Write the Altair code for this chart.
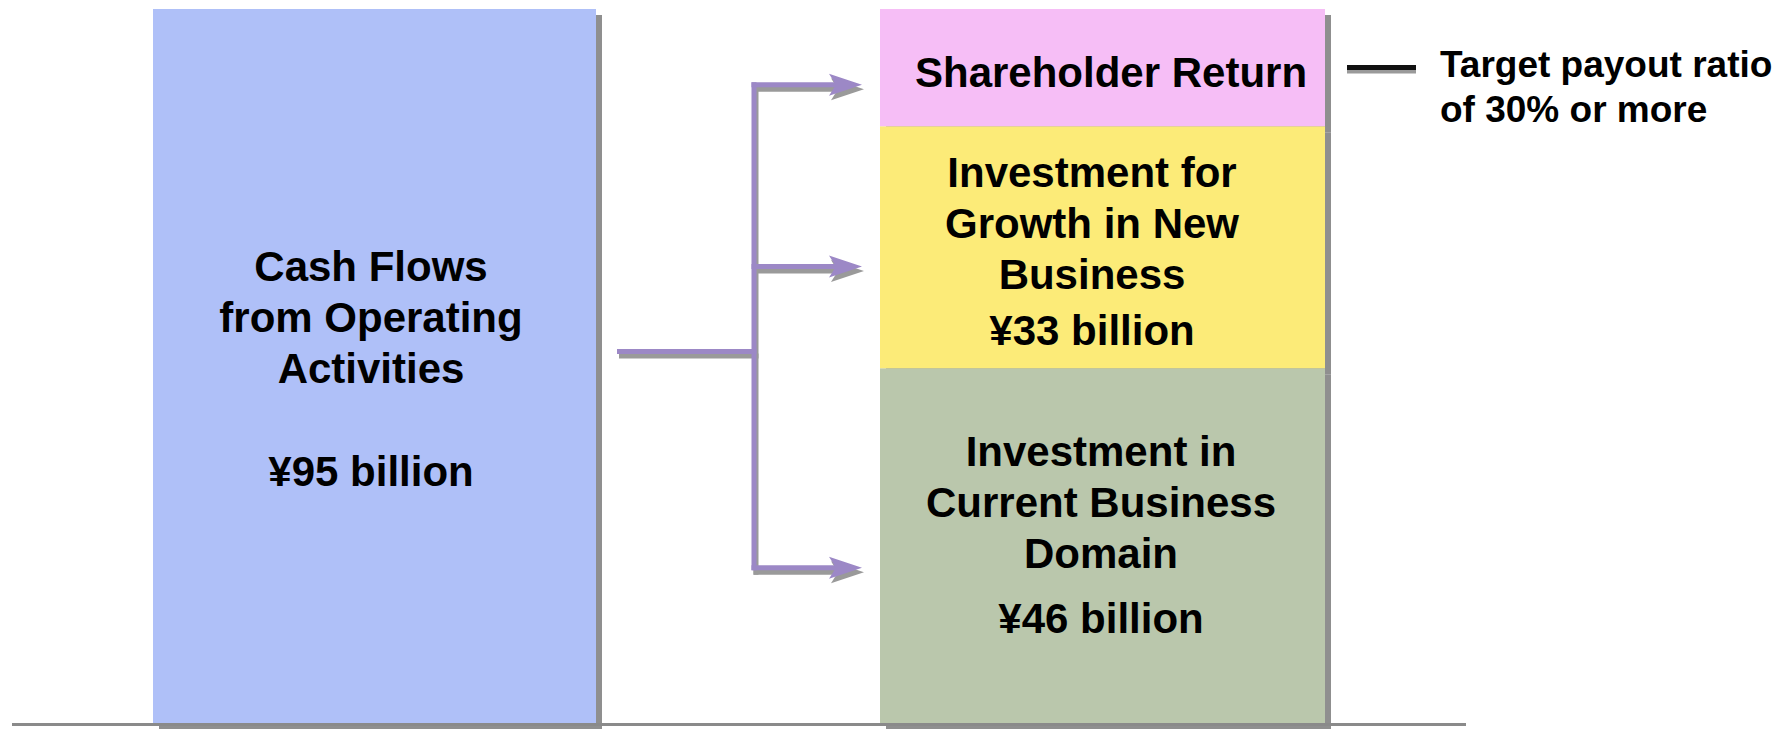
import altair as alt
import pandas as pd

# ---------------- values (¥ billion) ----------------
source_total = 95                          # left bar: cash flows from operating activities
source_color = "#AFC0F8"

use_names = ["Investment in Current Business Domain",
             "Investment for Growth in New Business",
             "Shareholder Return"]         # stacked bottom -> top
use_heights = [47.2, 32.2, 15.6]           # drawn heights of the stacked segments
use_colors = ["#BAC7AC", "#FCEB78", "#F6BEF6"]

source_text = ["Cash Flows", "from Operating", "Activities", "¥95 billion"]
green_text = ["Investment in", "Current Business", "Domain", "¥46 billion"]
yellow_text = ["Investment for", "Growth in New", "Business", "¥33 billion"]
pink_text = ["Shareholder Return"]
note_text = ["Target payout ratio", "of 30% or more"]

# ---------------- layout ----------------
W, H = 1773, 721
K = 714 / 95                      # pixels per ¥ billion


def val(row):
    """page row -> value on the y scale"""
    return (723 - row) / K


xs = alt.Scale(domain=[8, 8 + W], nice=False, zero=False)
ys = alt.Scale(domain=[val(8 + H), val(8)], nice=False, zero=False)

FONT = "Liberation Sans"
PURPLE = "#9C88C6"
SHADOW = "#9a9a9a"

LEFT_X = (153, 596)
RIGHT_X = (880, 1325)
SH_DX, SH_DY = 6, 6               # bar shadow offset (px)

# bars (stacked by cumulative sum)
bars = [dict(x0=LEFT_X[0], x1=LEFT_X[1], y0=0.0, y1=float(source_total), color=source_color)]
base = 0.0
for h, c in zip(use_heights, use_colors):
    bars.append(dict(x0=RIGHT_X[0], x1=RIGHT_X[1], y0=base, y1=base + h, color=c))
    base += h
bars_df = pd.DataFrame(bars)
shadow_df = bars_df.assign(x0=bars_df.x0 + SH_DX, x1=bars_df.x1 + SH_DX,
                           y0=bars_df.y0 - SH_DY / K, y1=bars_df.y1 - SH_DY / K)

# arrow geometry (page px / rows)
CONN_X = 754
ARROW_ROWS = [84.7, 266.5, 567.7]
FEED_ROW = 351.5
HEAD_X = 845.5
segs = [(617, FEED_ROW, CONN_X + 2.5, FEED_ROW),
        (CONN_X, ARROW_ROWS[0] - 2.5, CONN_X, ARROW_ROWS[-1] + 2.5)]
for r in ARROW_ROWS:
    segs.append((CONN_X - 2.5, r, 840, r))
seg_df = pd.DataFrame([dict(x=a, y=val(b), x2=c, y2=val(d)) for a, b, c, d in segs])
AR_DX, AR_DY = 2, 4.5
seg_sh = pd.DataFrame([dict(x=a + AR_DX, y=val(b + AR_DY), x2=c + AR_DX, y2=val(d + AR_DY))
                       for a, b, c, d in segs])
heads = pd.DataFrame([dict(x=HEAD_X, y=val(r)) for r in ARROW_ROWS])
heads_sh = pd.DataFrame([dict(x=HEAD_X + AR_DX, y=val(r + AR_DY)) for r in ARROW_ROWS])
HEAD_PATH = "M-1,-0.67L1,0L-1,0.67L-0.58,0Z"

dash = pd.DataFrame([dict(x=1347, x2=1416, y=val(67.5))])
dash_sh = pd.DataFrame([dict(x=1347, x2=1416, y=val(71.5))])
baseline = pd.DataFrame([dict(x=12, x2=1466, y=val(724.6))])

# text lines
rows = []
for t, r in zip(source_text, [280.7, 332.0, 383.3, 485.9]):
    rows.append(dict(text=t, x=371, y=val(r)))
for t, r in zip(yellow_text, [186.7, 238.0, 288.5, 345.0]):
    rows.append(dict(text=t, x=1092, y=val(r)))
for t, r in zip(green_text, [466.0, 516.9, 568.0, 633.3]):
    rows.append(dict(text=t, x=1101, y=val(r)))
for t, r in zip(pink_text, [86.7]):
    rows.append(dict(text=t, x=1111, y=val(r)))
box_text = pd.DataFrame(rows)
note_df = pd.DataFrame([dict(text=t, x=1440, y=val(r)) for t, r in zip(note_text, [76.7, 121.7])])


def X(f="x"):
    return alt.X(f"{f}:Q", scale=xs, axis=None)


def Y(f="y"):
    return alt.Y(f"{f}:Q", scale=ys, axis=None)


layers = [
    alt.Chart(shadow_df).mark_rect(color="#8f8f8f").encode(
        x=X("x0"), x2="x1", y=Y("y0"), y2="y1"),
    alt.Chart(bars_df).mark_rect().encode(
        x=X("x0"), x2="x1", y=Y("y0"), y2="y1",
        color=alt.Color("color:N", scale=None)),
    alt.Chart(baseline).mark_rule(color="#8a8a8a", strokeWidth=3).encode(
        x=X(), x2="x2", y=Y()),
    alt.Chart(seg_sh).mark_rule(color=SHADOW, strokeWidth=5).encode(
        x=X(), x2="x2", y=Y(), y2="y2"),
    alt.Chart(heads_sh).mark_point(shape=HEAD_PATH, filled=True, size=1089, opacity=1,
                                   strokeWidth=0, color=SHADOW).encode(x=X(), y=Y()),
    alt.Chart(seg_df).mark_rule(color=PURPLE, strokeWidth=5).encode(
        x=X(), x2="x2", y=Y(), y2="y2"),
    alt.Chart(heads).mark_point(shape=HEAD_PATH, filled=True, size=1089, opacity=1,
                                strokeWidth=0, color=PURPLE).encode(x=X(), y=Y()),
    alt.Chart(dash_sh).mark_rule(color=SHADOW, strokeWidth=4).encode(x=X(), x2="x2", y=Y()),
    alt.Chart(dash).mark_rule(color="#111111", strokeWidth=5).encode(x=X(), x2="x2", y=Y()),
    alt.Chart(box_text).mark_text(align="center", baseline="alphabetic", font=FONT,
                                  fontWeight="bold", fontSize=42, color="black").encode(
        x=X(), y=Y(), text="text:N"),
    alt.Chart(note_df).mark_text(align="left", baseline="alphabetic", font=FONT,
                                 fontWeight="bold", fontSize=37, color="black").encode(
        x=X(), y=Y(), text="text:N"),
]

chart = alt.layer(*layers).properties(
    width=W, height=H, padding=0, autosize="none", background="white"
).configure_view(stroke=None)

chart.save("out.html", embed_options={"renderer": "svg", "actions": False})
